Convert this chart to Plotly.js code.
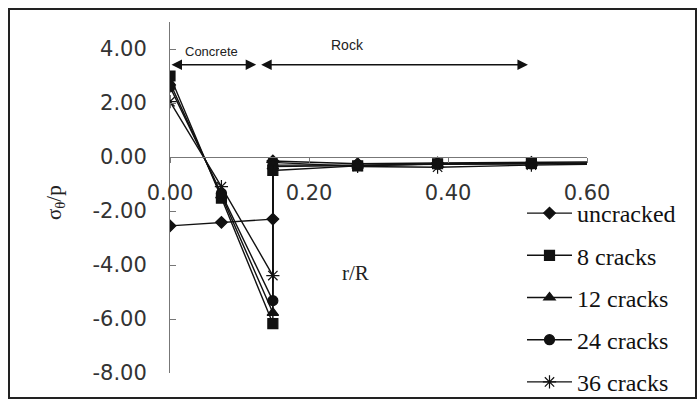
<!DOCTYPE html>
<html>
<head>
<meta charset="utf-8">
<script src="https://cdn.plot.ly/plotly-3.0.1.min.js"></script>
<style>
  html, body { margin: 0; padding: 0; background: #fff; }
  #chart { width: 698px; height: 400px; }
</style>
</head>
<body>
<div id="chart"></div>
<script>
// Normalised hoop stress sigma_theta/p against normalised radius r/R
// (lining 0 - 0.148, rock beyond; the last point lies past the axis end)
const rR        = [0, 0.074, 0.148, 0.148, 0.27, 0.385, 0.52, 0.65];
const uncracked = [-2.55, -2.42, -2.30, -0.15, -0.25, -0.22, -0.20, -0.18];
const cracks8   = [3.00, -1.52, -6.17, -0.50, -0.33, -0.25, -0.24, -0.22];
const cracks12  = [2.75, -1.42, -5.77, -0.35, -0.32, -0.26, -0.25, -0.22];
const cracks24  = [2.60, -1.35, -5.32, -0.30, -0.30, -0.27, -0.26, -0.23];
const cracks36  = [2.05, -1.10, -4.39, -0.20, -0.35, -0.38, -0.30, -0.25];

const seriesNames = ['uncracked', '8 cracks', '12 cracks', '24 cracks', '36 cracks'];
const seriesData  = [uncracked, cracks8, cracks12, cracks24, cracks36];

const xTicks = [0, 0.2, 0.4, 0.6];
const yTicks = [-8, -6, -4, -2, 0, 2, 4];

const symbols = ['diamond', 'square', 'triangle-up', 'circle', 'asterisk-open'];
const sizes   = [9, 10, 10, 10, 11];

const traces = seriesData.map((ys, i) => ({
  type: 'scatter',
  mode: 'lines+markers',
  name: seriesNames[i],
  legendgroup: 'g' + i,
  x: rR,
  y: ys,
  line: { color: '#111', width: 1.4 },
  marker: {
    symbol: symbols[i],
    size: sizes[i],
    color: '#111',
    line: { color: '#111', width: 1.2 }
  }
}));

// plot area geometry in pixels
const W = 698, H = 400;
const L = 170, R = 587, T = 22, B = 373;
const pw = R - L, ph = B - T;
const px = v => (v - L) / pw;
const py = v => (B - v) / ph;

const yMin = -8, yMax = 5;

const tickFont = { family: 'DejaVu Sans, sans-serif', size: 21, color: '#333' };

const layout = {
  width: W,
  height: H,
  margin: { l: L, r: W - R, t: T, b: H - B, autoexpand: false },
  paper_bgcolor: '#fff',
  plot_bgcolor: '#fff',
  showlegend: true,
  xaxis: {
    range: [0, 0.6],
    anchor: 'free',
    position: (0 - yMin) / (yMax - yMin),
    showline: true,
    linecolor: '#777',
    linewidth: 1,
    showgrid: false,
    zeroline: false,
    tickvals: xTicks,
    ticktext: xTicks.map(v => v.toFixed(2)),
    ticks: 'outside',
    ticklen: 5,
    tickcolor: '#777',
    ticklabelstandoff: 12,
    tickfont: tickFont
  },
  yaxis: {
    range: [yMin, yMax],
    showline: true,
    linecolor: '#777',
    linewidth: 1,
    showgrid: false,
    zeroline: false,
    tickvals: yTicks,
    ticktext: yTicks.map(v => v.toFixed(2)),
    ticks: 'inside',
    ticklen: 6,
    tickcolor: '#777',
    ticklabelstandoff: 18,
    tickfont: tickFont
  },
  legend: {
    x: px(522),
    y: py(191),
    xanchor: 'left',
    yanchor: 'top',
    bgcolor: 'rgba(0,0,0,0)',
    font: { family: 'Liberation Serif, serif', size: 24, color: '#111' },
    tracegroupgap: 8,
    itemwidth: 45
  },
  shapes: [
    // chart frame
    {
      type: 'rect', xref: 'paper', yref: 'paper',
      x0: px(9), x1: px(696), y0: py(398), y1: py(9),
      line: { color: '#222', width: 2 }
    }
  ],
  annotations: [
    // Concrete span arrow
    {
      xref: 'x', yref: 'y', axref: 'x', ayref: 'y',
      x: 0.124, y: 3.42, ax: 0, ay: 3.42,
      text: '', showarrow: true,
      arrowside: 'end+start', arrowhead: 2, arrowsize: 1.4,
      arrowwidth: 1.5, arrowcolor: '#111', standoff: 0, startstandoff: 0
    },
    // Rock span arrow
    {
      xref: 'x', yref: 'y', axref: 'x', ayref: 'y',
      x: 0.515, y: 3.42, ax: 0.129, ay: 3.42,
      text: '', showarrow: true,
      arrowside: 'end+start', arrowhead: 2, arrowsize: 1.4,
      arrowwidth: 1.5, arrowcolor: '#111', standoff: 0, startstandoff: 0
    },
    {
      xref: 'x', yref: 'y', x: 0.059, y: 3.89, showarrow: false,
      text: 'Concrete',
      font: { family: 'Liberation Sans, sans-serif', size: 13, color: '#222' }
    },
    {
      xref: 'x', yref: 'y', x: 0.255, y: 4.15, showarrow: false,
      text: 'Rock',
      font: { family: 'Liberation Sans, sans-serif', size: 14, color: '#222' }
    },
    // axis titles
    {
      xref: 'paper', yref: 'paper', x: px(40), y: py(203), showarrow: false,
      textangle: -90,
      text: 'σ<sub>θ</sub>/p',
      font: { family: 'Liberation Serif, serif', size: 21, color: '#222' }
    },
    {
      xref: 'paper', yref: 'paper', x: px(355), y: py(287), showarrow: false,
      text: 'r/R',
      font: { family: 'Liberation Serif, serif', size: 21, color: '#222' }
    }
  ]
};

Plotly.newPlot('chart', traces, layout, { staticPlot: true, displayModeBar: false });
</script>
</body>
</html>
